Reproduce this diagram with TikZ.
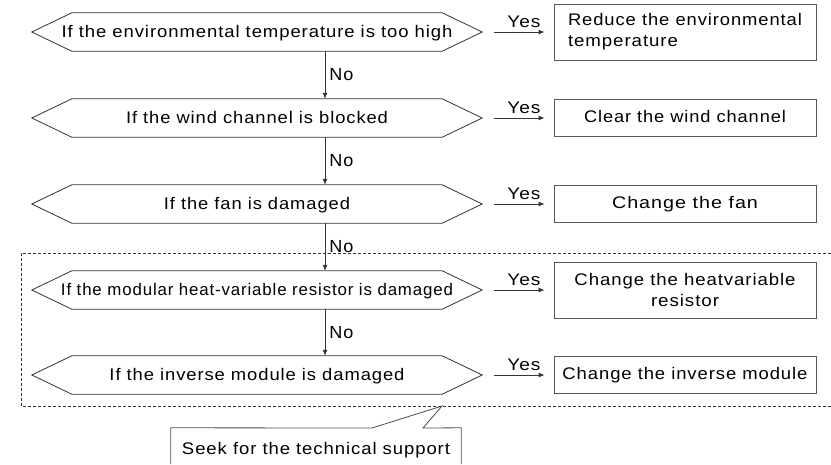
\documentclass[tikz,border=0pt]{standalone}
\usepackage{fontspec}
\usepackage{graphicx}
\newfontfamily\lblfont{Liberation Sans}[LetterSpace=5]
\usetikzlibrary{arrows.meta}
% fit a text to a measured width (horizontal scaling only)
\newcommand\fw[2]{\resizebox{#1pt}{\height}{#2}}
\newcommand\hw[2]{\makebox[0pt]{\resizebox{#1pt}{\height}{#2}}}
\tikzset{
  base/.style={font=\lblfont\fontsize{16.8}{21}\selectfont, text=black},
  hexnode/.style={base, rectangle, minimum width=370pt, minimum height=38pt, inner sep=0pt,
    text height=13pt, text depth=3pt},
  hexline/.style={draw=black!80, line width=0.8pt, line join=miter},
  boxnode/.style={base, rectangle, draw=black!65, line width=0.8pt, minimum width=262pt, inner sep=0pt},
  onebox/.style={boxnode, minimum height=37pt, text height=12.5pt, text depth=3.5pt},
  arr/.style={draw=black!80, line width=0.8pt, -{Latex[length=6pt,width=5pt]}},
  nolbl/.style={base, font=\lblfont\fontsize{17.5}{21}\selectfont, right, inner sep=4pt},
  yeslbl/.style={base, above=3.5pt, inner sep=0pt},
  frame/.style={draw=black!80, line width=0.8pt, dash pattern=on 3pt off 2pt},
  callout/.style={draw=black!70, line width=0.8pt}
}
\begin{document}
\begin{tikzpicture}[x=1pt,y=-1pt]
\useasboundingbox (0,0) rectangle (831,464);
% decisions
\node[hexnode] (h1) at (257,32) {\hw{391}{If the environmental temperature is too high}};
\node[hexnode] (h2) at (257,118) {\hw{262}{If the wind channel is blocked}};
\node[hexnode] (h3) at (257,204) {\hw{186}{If the fan is damaged}};
\node[hexnode] (h4) at (257,290) {\hw{392}{If the modular heat-variable resistor is damaged}};
\node[hexnode] (h5) at (257,375) {\hw{295}{If the inverse module is damaged}};
\foreach \n in {h1,h2,h3,h4,h5}
  \draw[hexline] (\n.north west) -- ([xshift=-40pt]\n.west) -- (\n.south west)
    -- (\n.south east) -- ([xshift=40pt]\n.east) -- (\n.north east) -- cycle;
% actions
\node[boxnode, minimum height=56pt, text width=234pt, inner xsep=14pt, align=left] (b1) at (685,32)
  {\fw{234}{Reduce the environmental}\\\fw{110}{temperature}};
\node[onebox] (b2) at (685,118) {\fw{202}{Clear the wind channel}};
\node[onebox] (b3) at (685,204) {\fw{146}{Change the fan}};
\node[boxnode, minimum height=56pt, align=center] (b4) at (685,290) {\fw{221}{Change the heatvariable}\\\fw{68}{resistor}};
\node[onebox] (b5) at (685,375) {\fw{245}{Change the inverse module}};
% yes arrows
\foreach \i in {1,...,5}
  \draw[arr] ([xshift=52pt]h\i.east) -- ([xshift=-9pt]b\i.west)
    node[yeslbl, pos=0.59] {\fw{33}{Yes}};
% no arrows
\foreach \a/\b in {h1/h2,h2/h3,h3/h4,h4/h5}
  \draw[arr] ([xshift=68pt]\a.south) -- ([xshift=68pt]\b.north) node[nolbl, midway] {\fw{24}{No}};
% dashed frame
\draw[frame] (831,253) -- (21,253) -- (21,406) -- (831,406);
% callout
\node[base, minimum width=290pt, minimum height=44pt, inner sep=0pt] (s) at (316,450) {\fw{268}{Seek for the technical support}};
\coordinate (tip) at (442,406);
\draw[callout] (s.north west |- 0,464) -- (s.north west) -- (372,428) -- (tip) -- (423,428)
  -- (s.north east) -- (s.north east |- 0,464);
\end{tikzpicture}
\end{document}
